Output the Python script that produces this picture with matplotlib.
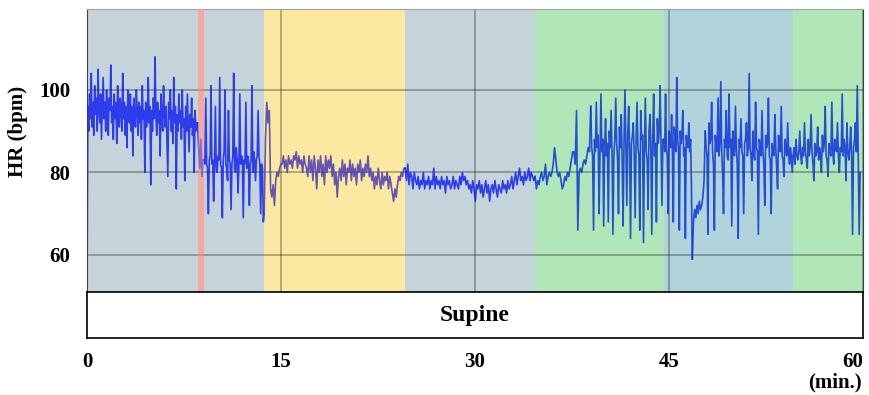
import numpy as np
import matplotlib
matplotlib.use('Agg')
import matplotlib.pyplot as plt

plt.rcParams['font.family'] = ['Liberation Serif', 'DejaVu Serif']
plt.rcParams['font.weight'] = 'bold'

# phase boundaries (min) and background colours
phase_edges = [0, 13.7, 24.6, 34.65, 44.6, 54.6, 60]
phase_colors = ['#c4d4da', '#fbe9a1', '#c4d4da', '#b1e6b9', '#b0d4d9', '#b1e6b9']
event_span = [8.55, 9.05]
event_color = '#f5a8a0'

x_ticks = [0, 15, 30, 45, 60]
y_ticks = [60, 80, 100]
posture = 'Supine'

# heart rate (evenly spaced samples within each piece)
rest1_hr = [51, 96, 90, 99, 93, 104, 91, 97, 89, 101, 94, 98, 90, 105, 95, 92, 99, 88, 96, 103,
            93, 97, 90, 100, 94, 89, 98, 95, 106, 92, 96, 88, 99, 93, 97, 87, 101, 94, 91, 98,
            95, 90, 104, 93, 97, 89, 96, 86, 100, 94, 92, 99, 90, 96, 84, 98, 93, 91, 100, 95,
            89, 97, 92, 96, 88, 101, 93, 95, 80, 97, 91, 94, 103, 92, 96, 77, 95, 90, 98, 93,
            108, 94, 89, 97, 92, 95, 84, 99, 93, 90, 101, 94, 91, 96, 88, 79, 97, 93, 100, 90,
            95, 87, 103, 92, 96, 76, 94, 90, 99, 92, 95, 88, 100, 91, 93, 78, 96, 90, 99, 92,
            85, 94, 91, 98, 89, 93, 80, 95, 90, 92]
event_hr = [92, 86, 81, 88, 79, 83]
rest2_hr = [83, 82, 98, 82, 81, 70, 83, 84, 101, 82, 83, 73, 82, 96, 81, 80, 84, 83, 103, 82,
            81, 69, 83, 85, 100, 82, 81, 78, 95, 83, 82, 71, 82, 84, 104, 81, 80, 86, 83, 75,
            82, 99, 82, 84, 83, 69, 83, 82, 97, 81, 84, 83, 72, 82, 83, 101, 80, 85, 83, 78,
            83, 84, 95, 84, 82, 70, 82, 81, 68]
task1_hr = [70, 88, 97, 92, 95, 76, 74, 77, 72, 78, 80, 79, 81, 82,
            82, 84, 81, 83, 80, 84, 82, 83, 81, 84, 83, 85, 81, 84, 82, 83, 80, 84, 82, 81,
            79, 84, 80, 83, 78, 84, 81, 76, 83, 80, 84, 79, 82, 77, 84, 80, 83, 81, 84, 79,
            82, 77, 80, 74, 79,
            81, 78, 83, 79, 82, 77, 81, 80, 83, 78, 82, 79, 81, 77, 82, 80, 83, 78, 81, 79,
            82, 80, 84, 79, 81,
            78, 80, 76, 79, 77, 81, 78, 76, 80, 77, 79, 78, 80, 76, 79, 77,
            75, 73, 76, 74, 77,
            79, 78, 80, 79, 81]
rest3_hr = [81, 78, 82, 77, 80, 79, 76, 80, 78,
            77, 79, 76, 78, 77, 80, 76, 78, 77, 79, 76, 78, 77, 81, 76, 79, 77, 78, 76, 79,
            77, 78, 75, 79, 77, 78, 76, 77, 79, 76, 78, 77, 76, 79, 77,
            80, 78, 79, 77, 78,
            76, 77, 75, 78, 76, 73, 77, 76, 78, 75, 77, 74, 76, 78, 75, 77, 73, 76, 77, 75,
            78, 76, 74, 77, 76, 75, 78, 76, 77, 75, 78, 76, 77, 79, 76,
            78, 80, 77, 79, 81, 78, 79, 77, 80, 78, 79, 81, 78, 80, 79, 78]
task2_calm_hr = [79, 76, 78, 77, 79, 80, 78, 79, 82,
                 77, 79, 80, 79, 80,
                 82, 86, 83, 80, 79, 80,
                 78, 76, 77, 79, 78, 80,
                 79, 81, 83, 85, 85, 82, 95, 66, 80, 81, 80, 82, 83, 82, 84, 86, 85]
task2_spiky_hr = [96, 86, 84, 66, 88, 85, 97, 86, 89, 70, 84, 99, 85, 88, 67, 86, 93, 84, 87, 68,
                  90, 86, 95, 85, 65, 84, 88, 98, 87, 83, 70, 91, 86, 94, 82, 67, 88, 100, 86, 72,
                  89, 96, 85, 64, 87, 89, 92, 84, 69, 87, 97, 86, 84, 66, 95, 88, 89, 63, 86, 98,
                  85, 83, 71, 90, 94, 86, 65, 88, 99, 84, 87, 68, 93, 87, 90, 101, 86, 72, 88]
rest4a_hr = [88, 85, 99, 86, 84, 70, 90, 87, 86, 94, 85, 68, 91, 88, 85, 103, 88, 86, 66, 90,
             87, 89, 95, 84, 86, 64, 89, 87, 86, 92, 85, 88, 77]
rest4_dip_hr = [59, 68, 71, 69, 72, 70, 73, 71, 72, 74, 78]
rest4b_hr = [90, 86, 84, 65, 92, 87, 88, 97, 85, 82, 66, 89, 86, 85, 98, 84, 87, 102, 85, 80,
             70, 88, 86, 95, 84, 83, 99, 86, 88, 67, 90, 85, 84, 96, 86, 82, 64, 88, 86, 93,
             85, 84, 70, 87, 88, 92, 84, 86, 104, 86, 84, 78, 90, 85, 83, 97, 86, 85, 65, 88,
             86, 84, 95, 85, 82, 72, 89, 86, 87, 98, 84, 83, 70, 87, 85, 84, 94, 86, 81, 76,
             89, 86, 85, 96, 84, 83, 79, 88, 86, 84, 92, 85, 82, 86, 84, 80]
task3_hr = [84, 86, 82, 88, 84, 83, 85, 90, 84, 82, 86, 84, 92, 85, 83, 81, 88, 84, 86, 94,
            85, 82, 78, 87, 84, 85, 91, 83, 86, 84, 80, 89, 85, 87, 96, 84, 83, 79, 87, 85,
            84, 97, 85, 82, 88, 86, 85, 92, 84, 80, 86, 85, 99, 84, 88, 86, 78, 92, 85, 83,
            86, 91, 84, 65, 86, 88, 92, 85, 101, 84, 65, 80]

blue = '#1222f0'
purple = '#4b3ab5'
deep_blue = '#0c34d8'
segments = [
    (0, 8.55, rest1_hr, blue),
    (8.55, 9.05, event_hr, blue),
    (9.05, 13.7, rest2_hr, blue),
    (13.7, 24.6, task1_hr, purple),
    (24.6, 34.65, rest3_hr, blue),
    (34.65, 38.95, task2_calm_hr, deep_blue),
    (38.95, 44.6, task2_spiky_hr, deep_blue),
    (44.6, 46.8, rest4a_hr, deep_blue),
    (46.8, 47.8, rest4_dip_hr, deep_blue),
    (47.8, 54.6, rest4b_hr, deep_blue),
    (54.6, 59.85, task3_hr, deep_blue),
]

fig = plt.figure(figsize=(8.69, 3.95), dpi=100)
ax = fig.add_axes([87 / 869, 1 - 292 / 395, 776 / 869, 283 / 395])

for i in range(len(phase_colors)):
    ax.axvspan(phase_edges[i], phase_edges[i + 1], color=phase_colors[i], lw=0, zorder=0)
ax.axvspan(event_span[0], event_span[1], color=event_color, lw=0, zorder=0)

# sample times per piece, then draw each with a link to the next one
times = [np.linspace(a, b, len(v), endpoint=False) for a, b, v, c in segments]
for k, (a, b, v, c) in enumerate(segments):
    t = list(times[k])
    y = list(v)
    if k + 1 < len(segments):
        t.append(times[k + 1][0])
        y.append(segments[k + 1][2][0])
    ax.plot(t, y, color=c, lw=1.2, alpha=0.85, zorder=2)

# red event marker tints the trace underneath
ax.axvspan(event_span[0], event_span[1], color=event_color, lw=0, alpha=0.45, zorder=3)

ax.set_xlim(0, 60)
ax.set_ylim(51, 119.6)
ax.set_xticks(x_ticks)
ax.set_yticks(y_ticks)
ax.tick_params(axis='x', length=0, labelbottom=False)
ax.tick_params(axis='y', length=0, pad=12, labelsize=15)
ax.set_axisbelow(True)
ax.grid(True, color='black', alpha=0.3, lw=1.3)
ax.spines['top'].set_color('#a0a0a0')
ax.spines['left'].set_color('#404040')
ax.spines['right'].set_color('#404040')
ax.spines['bottom'].set_color('black')

fig.text(0.021, 1 - 131 / 395, 'HR (bpm)', rotation=90, ha='center', va='center',
         fontsize=15, fontweight='bold')

# posture bar underneath
ax2 = fig.add_axes([87 / 869, 1 - 338 / 395, 776 / 869, 46 / 395])
ax2.set_xlim(0, 60)
ax2.set_ylim(0, 1)
ax2.set_yticks([])
ax2.set_xticks(x_ticks)
ax2.tick_params(axis='x', length=0, pad=10, labelsize=15)
ax2.get_xticklabels()[-1].set_horizontalalignment('right')
for s in ax2.spines.values():
    s.set_color('black')
    s.set_linewidth(1.2)
ax2.text(30, 0.5, posture, ha='center', va='center', fontsize=17, fontweight='bold')

fig.text(862 / 869, 1 - 382 / 395, '(min.)', ha='right', va='center',
         fontsize=15, fontweight='bold')

plt.savefig('out.png', dpi=100)
plt.close()
